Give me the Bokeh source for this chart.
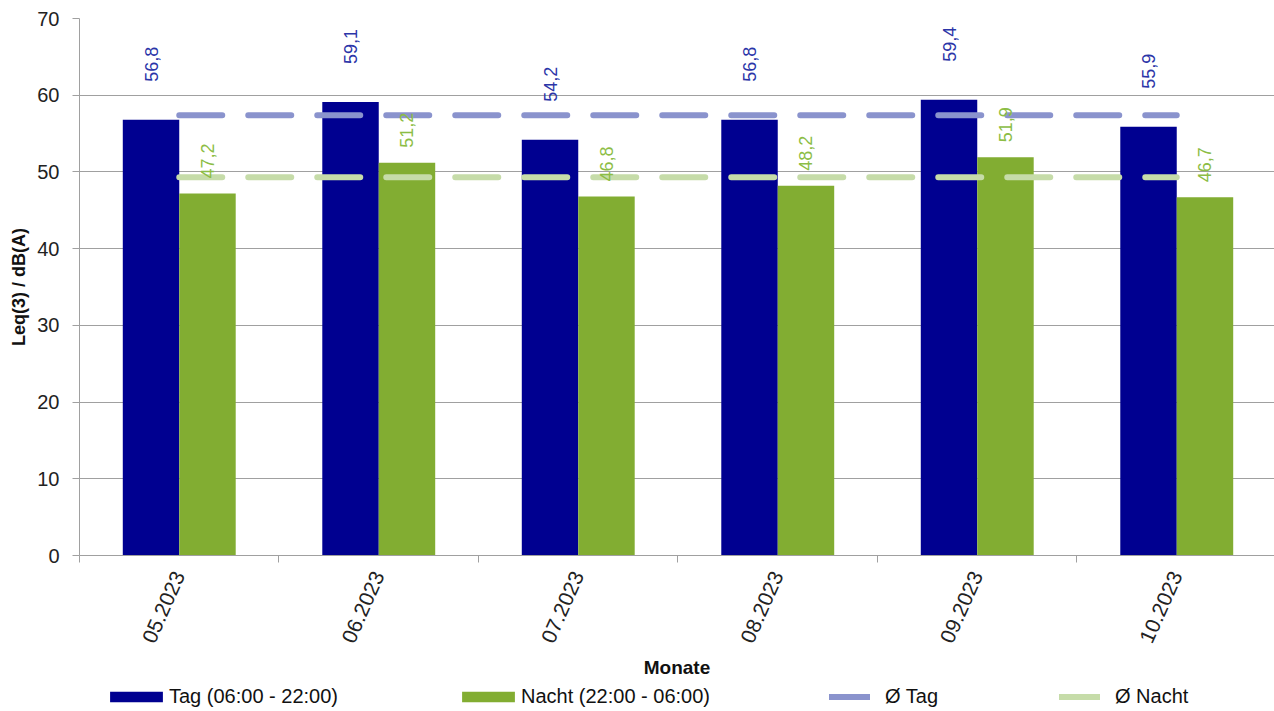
from math import pi
from bokeh.plotting import figure
from bokeh.layouts import column
from bokeh.models import ColumnDataSource, Range1d, FixedTicker, Legend, LegendItem
from bokeh.core.properties import value
from bokeh.embed import file_html
from bokeh.resources import INLINE

# ---- data ----
months = ["05.2023", "06.2023", "07.2023", "08.2023", "09.2023", "10.2023"]
tag = [56.8, 59.1, 54.2, 56.8, 59.4, 55.9]
nacht = [47.2, 51.2, 46.8, 48.2, 51.9, 46.7]
avg_tag = 57.4
avg_nacht = 49.3
y_ticks = [0, 10, 20, 30, 40, 50, 60, 70]
series_names = ["Tag (06:00 - 22:00)", "Nacht (22:00 - 06:00)", "Ø Tag", "Ø Nacht"]

FONT = "Liberation Sans"
BAR_W = 0.283
C_TAG, C_NACHT, C_AT, C_AN = "#000090", "#82ad32", "#8a93cd", "#c6dca9"
DASH = "43 26"

centers = [i + 0.5 for i in range(len(months))]
bounds = [float(i) for i in range(len(months) + 1)]
src = ColumnDataSource(dict(
    xt=[c - BAR_W / 2 for c in centers],
    xn=[c + BAR_W / 2 for c in centers],
    tag=tag,
    nacht=nacht,
    tag_lbl=[f"{v:.1f}".replace(".", ",") for v in tag],
    nacht_lbl=[f"{v:.1f}".replace(".", ",") for v in nacht],
))

p = figure(width=1274, height=683, x_range=Range1d(0, 5.99), y_range=Range1d(0, 70),
           output_backend="svg", toolbar_location=None,
           min_border_left=79, min_border_top=18, min_border_right=0, min_border_bottom=128)
p.outline_line_color = None
p.background_fill_color = "white"

p.vbar(x="xt", top="tag", width=BAR_W, bottom=0, source=src, fill_color=C_TAG, line_color=None)
p.vbar(x="xn", top="nacht", width=BAR_W, bottom=0, source=src, fill_color=C_NACHT, line_color=None)

p.line(x=[centers[0], centers[-1]], y=[avg_tag, avg_tag], line_color=C_AT,
       line_width=6, line_dash=DASH, line_cap="round")
p.line(x=[centers[0], centers[-1]], y=[avg_nacht, avg_nacht], line_color=C_AN,
       line_width=6, line_dash=DASH, line_cap="round")

p.text(x="xt", y="tag", text="tag_lbl", source=src, angle=pi / 2, text_align="left",
       text_baseline="middle", y_offset=-38, text_color="#2b35a8",
       text_font=value(FONT), text_font_size="18px")
p.text(x="xn", y="nacht", text="nacht_lbl", source=src, angle=pi / 2, text_align="left",
       text_baseline="middle", y_offset=-15, text_color="#8cbd45",
       text_font=value(FONT), text_font_size="18px")

# axes
p.yaxis.ticker = FixedTicker(ticks=y_ticks)
p.xaxis.ticker = FixedTicker(ticks=centers, minor_ticks=bounds)
p.xaxis.major_label_overrides = {c: m for c, m in zip(centers, months)}
p.xaxis.major_label_orientation = 1.15
p.xaxis.major_tick_out = 0
p.xaxis.major_tick_in = 0
p.xaxis.minor_tick_out = 7
p.xaxis.minor_tick_in = 0
p.yaxis.major_tick_out = 7
p.yaxis.major_tick_in = 0
p.yaxis.minor_tick_line_color = None
for ax in (p.xaxis, p.yaxis):
    ax.axis_line_color = "#a0a0a0"
    ax.major_tick_line_color = "#a0a0a0"
    ax.major_label_text_font = FONT
    ax.major_label_text_font_size = "20px"
    ax.major_label_text_color = "#222222"
    ax.axis_label_text_font = FONT
    ax.axis_label_text_font_style = "bold"
    ax.axis_label_text_font_size = "19px"
    ax.axis_label_text_color = "#111111"
p.xaxis.major_label_text_font_size = "21px"
p.yaxis.axis_label_text_font_size = "18px"
p.xaxis.minor_tick_line_color = "#a0a0a0"
p.xaxis.axis_label = "Monate"
p.yaxis.axis_label = "Leq(3) / dB(A)"
p.yaxis.major_label_standoff = 13
p.xaxis.major_label_standoff = 10
p.xaxis.axis_label_standoff = 6

p.xgrid.grid_line_color = None
p.ygrid.grid_line_color = "#a0a0a0"
p.ygrid.grid_line_width = 1

# ---- legend strip below the chart (its glyphs lie outside its view) ----
lg = figure(width=1274, height=28, x_range=Range1d(-2, -1), y_range=Range1d(-2, -1),
            output_backend="svg", toolbar_location=None,
            x_axis_location=None, y_axis_location=None,
            min_border_left=0, min_border_right=0, min_border_top=0, min_border_bottom=0)
lg.outline_line_color = None
lg.grid.grid_line_color = None
g1 = lg.vbar(x="xt", top="tag", width=BAR_W, source=src, fill_color=C_TAG, line_color=None)
g2 = lg.vbar(x="xn", top="nacht", width=BAR_W, source=src, fill_color=C_NACHT, line_color=None)
g3 = lg.line(x="xt", y="tag", source=src, line_color=C_AT, line_width=6, line_cap="round")
g4 = lg.line(x="xn", y="nacht", source=src, line_color=C_AN, line_width=6, line_cap="round")

common = dict(orientation="horizontal", label_text_font=FONT, label_text_font_size="20px",
              label_text_color="#111111", border_line_color=None, background_fill_alpha=0,
              padding=0, margin=0)
legend_bars = Legend(items=[LegendItem(label=n, renderers=[r])
                            for n, r in zip(series_names[:2], [g1, g2])],
                     location=(24, 3), spacing=117, glyph_width=66, glyph_height=13,
                     label_standoff=0, **common)
legend_lines = Legend(items=[LegendItem(label=n, renderers=[r])
                             for n, r in zip(series_names[2:], [g3, g4])],
                      location=(750, 3), spacing=121, glyph_width=41, glyph_height=13,
                      label_standoff=15, **common)
lg.add_layout(legend_bars, "center")
lg.add_layout(legend_lines, "center")

open("out.html", "w").write(file_html(column(p, lg, spacing=0), INLINE))
